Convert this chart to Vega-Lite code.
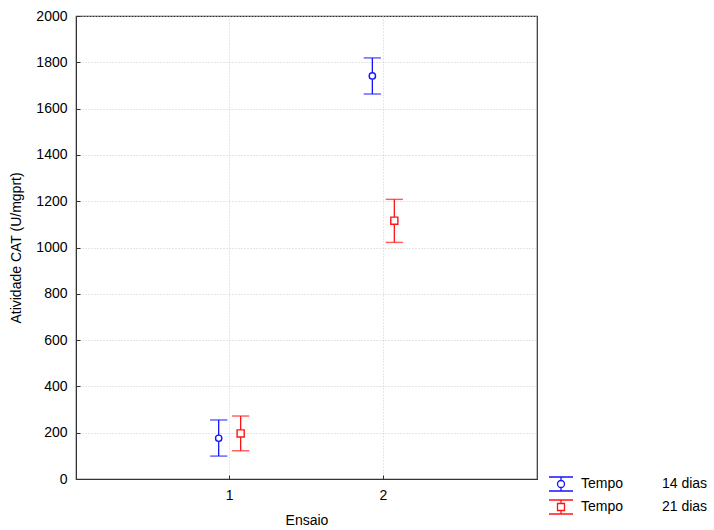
{
  "$schema": "https://vega.github.io/schema/vega-lite/v6.json",
  "width": 461,
  "height": 463,
  "autosize": "none",
  "padding": {"left": 76, "top": 16, "right": 177, "bottom": 51},
  "background": "white",
  "config": {
    "font": "Liberation Sans",
    "view": {"stroke": "#333333", "strokeWidth": 1.2},
    "axis": {
      "labelFont": "Liberation Sans",
      "titleFont": "Liberation Sans",
      "labelFontSize": 14,
      "titleFontSize": 14,
      "titleFontWeight": "normal",
      "labelColor": "black",
      "titleColor": "black",
      "domainColor": "#333333",
      "tickColor": "#333333",
      "gridColor": "#cccccc",
      "gridDash": [1, 2],
      "tickSize": -4
    },
    "legend": {
      "labelFont": "Liberation Sans",
      "labelFontSize": 14,
      "labelColor": "black",
      "symbolBaseFillColor": "white"
    }
  },
  "data": {
    "values": [
      {"ensaio": "1", "tempo": "14", "mean": 176, "lo": 99, "hi": 255},
      {"ensaio": "1", "tempo": "21", "mean": 197, "lo": 122, "hi": 272},
      {"ensaio": "2", "tempo": "14", "mean": 1741, "lo": 1663, "hi": 1819},
      {"ensaio": "2", "tempo": "21", "mean": 1116, "lo": 1022, "hi": 1208}
    ]
  },
  "encoding": {
    "x": {
      "field": "ensaio",
      "type": "nominal",
      "scale": {"type": "band", "paddingInner": 0.714, "paddingOuter": 0.857},
      "axis": {"title": "Ensaio", "labelAngle": 0, "grid": true, "bandPosition": 0.5, "labelPadding": 13, "titlePadding": 11}
    },
    "xOffset": {"field": "tempo", "type": "nominal", "scale": {"paddingInner": 0, "paddingOuter": 0}},
    "color": {
      "field": "tempo",
      "type": "nominal",
      "scale": {"domain": ["14", "21"], "range": ["#1414ff", "#ff1414"]},
      "legend": {
        "title": null,
        "orient": "none",
        "legendX": 474,
        "legendY": 457,
        "padding": 0,
        "symbolSize": 400,
        "rowPadding": 2,
        "labelOffset": 9,
        "symbolFillColor": "white",
        "symbolStrokeWidth": 1.3,
        "labelExpr": "'Tempo\u00a0\u00a0\u00a0\u00a0\u00a0\u00a0\u00a0\u00a0\u00a0\u00a0' + datum.label + ' dias'",
        "encode": {
          "symbols": {
            "update": {
              "shape": {"signal": "datum.value == '14' ? 'M-1.2,-0.7H1.2M-1.2,0.7H1.2M0,-0.7V-0.35M0,0.35V0.7M0.35,0A0.35,0.35 0 1,1 -0.35,0A0.35,0.35 0 1,1 0.35,0Z' : 'M-1.2,-0.7H1.2M-1.2,0.7H1.2M0,-0.7V-0.35M0,0.35V0.7M-0.35,-0.35H0.35V0.35H-0.35Z'"},
              "stroke": {"signal": "scale('color', datum.value)"},
              "fill": {"signal": "'white'"},
              "fillOpacity": {"value": 1},
              "strokeWidth": {"value": 1.3}
            }
          }
        }
      }
    }
  },
  "layer": [
    {
      "mark": {"type": "rule", "strokeWidth": 1.3},
      "encoding": {
        "y": {
          "field": "lo",
          "type": "quantitative",
          "scale": {"domain": [0, 2000], "nice": false},
          "axis": {"title": "Atividade CAT (U/mgprt)", "format": "d", "values": [0, 200, 400, 600, 800, 1000, 1200, 1400, 1600, 1800, 2000], "grid": true, "labelPadding": 13, "titlePadding": 12}
        },
        "y2": {"field": "hi"}
      }
    },
    {
      "mark": {"type": "tick", "size": 16, "thickness": 0.2, "filled": false, "strokeWidth": 1.2, "orient": "horizontal"},
      "encoding": {"y": {"field": "lo", "type": "quantitative"}}
    },
    {
      "mark": {"type": "tick", "size": 16, "thickness": 0.2, "filled": false, "strokeWidth": 1.2, "orient": "horizontal"},
      "encoding": {"y": {"field": "hi", "type": "quantitative"}}
    },
    {
      "mark": {"type": "point", "filled": false, "fill": "white", "fillOpacity": 1, "strokeWidth": 1.4, "opacity": 1},
      "encoding": {
        "y": {"field": "mean", "type": "quantitative"},
        "shape": {"condition": {"test": "datum.tempo == '14'", "value": "circle"}, "value": "square"},
        "size": {"condition": {"test": "datum.tempo == '14'", "value": 40}, "value": 50}
      }
    }
  ]
}
